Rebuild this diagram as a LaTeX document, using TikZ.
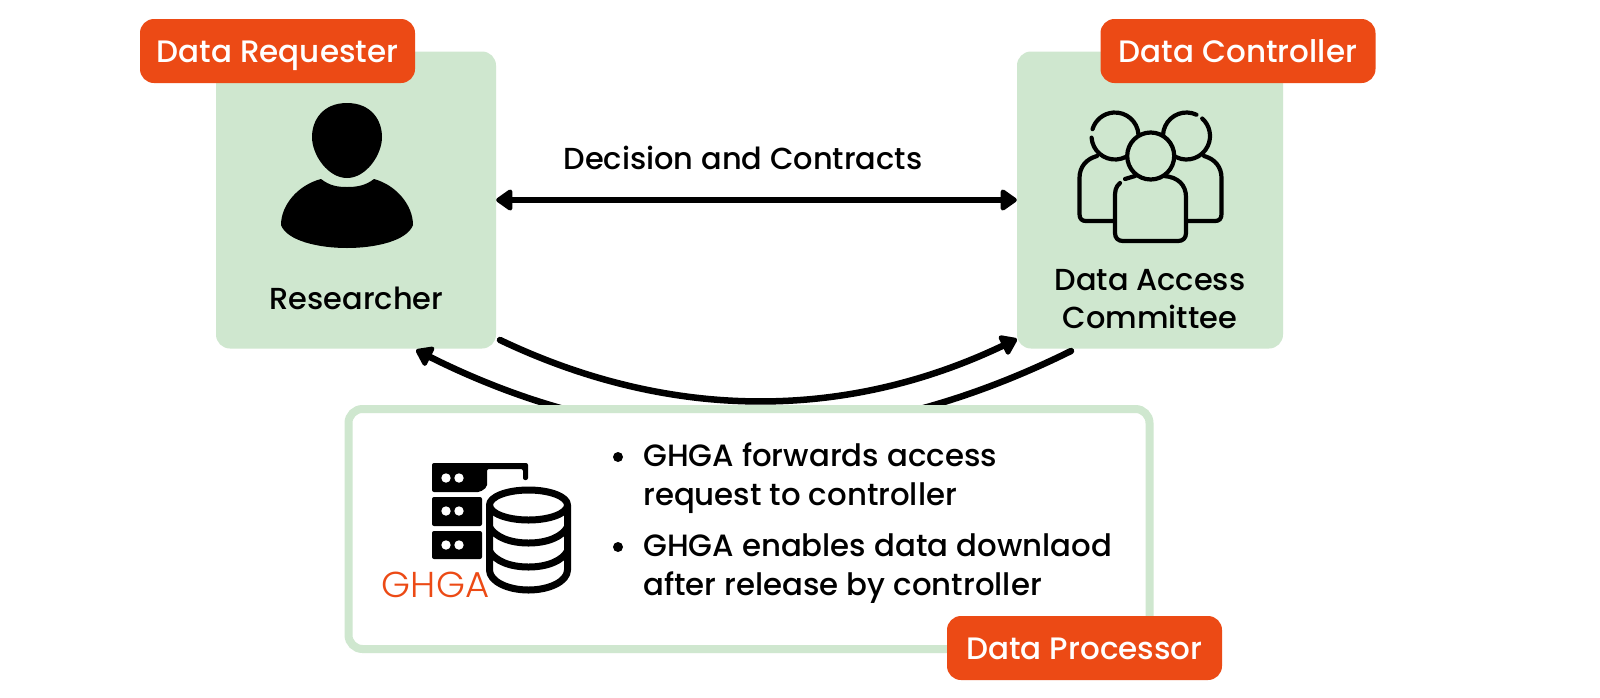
\documentclass[tikz,border=0pt]{standalone}
\usepackage{fontspec}
\setmainfont{Poppins Medium}
\usetikzlibrary{arrows.meta}
\definecolor{panelgreen}{HTML}{CFE7CF}
\definecolor{badgeorange}{HTML}{EC4A15}
\newcommand{\txtsize}{\fontsize{30.4}{36}\selectfont}
\newcommand{\listsize}{\fontsize{30.8}{36}\selectfont}
\newcommand{\badgesize}{\fontsize{31}{36}\selectfont}
\tikzset{
  panel/.style={fill=panelgreen,rounded corners=14pt,inner sep=0pt},
  badge/.style={fill=badgeorange,text=white,rounded corners=14pt,inner sep=0pt,minimum width=275pt,minimum height=64pt,font=\badgesize,text height=22pt,text depth=0pt},
  label/.style={inner sep=0pt,anchor=base,font=\txtsize,text=black},
  bullettext/.style={inner sep=0pt,anchor=base west,font=\listsize,text=black},
  flow/.style={line width=6.5pt,line cap=round,-{Triangle[round,length=18pt,width=24pt]}},
  iconline/.style={line width=4.2pt,line cap=round,line join=round},
  dbline/.style={line width=7pt,line join=round},
}
\begin{document}
\begin{tikzpicture}[x=1pt,y=-1pt]
\useasboundingbox (0,0) rectangle (1600,697);
\fill[white] (0,0) rectangle (1600,697);
% panels
\node[panel,minimum width=280pt,minimum height=297pt] (res) at (356,200) {};
\node[panel,minimum width=266pt,minimum height=297pt] (dac) at (1150,200) {};
% person
\fill (347,103) .. controls (371,103) and (382,120) .. (382,137)
  .. controls (382,155) and (366,178) .. (347,178)
  .. controls (328,178) and (312,155) .. (312,137)
  .. controls (312,120) and (323,103) .. (347,103) -- cycle;
\fill (321,179) .. controls (330,186) and (338,187) .. (347,187)
  .. controls (356,187) and (365,186) .. (374,179)
  .. controls (396,185) and (413,205) .. (413,225)
  .. controls (407,241) and (375,248) .. (347,248)
  .. controls (319,248) and (287,241) .. (281,225)
  .. controls (281,205) and (298,185) .. (321,179) -- cycle;
% committee: back heads
\begin{scope}[shift={(1115,136)},x=1pt,y=1pt]
  \draw[iconline] (184:23.5) arc[start angle=184,end angle=523,radius=23.5];
\end{scope}
\begin{scope}[shift={(1186.5,136)},x=1pt,y=1pt]
  \draw[iconline] (65:23.5) arc[start angle=65,end angle=408,radius=23.5];
\end{scope}
% committee: back bodies
\draw[iconline] (1097,156) .. controls (1086,159) and (1079.5,167) .. (1079.5,178) -- (1079.5,214)
  .. controls (1079.5,219) and (1082,221) .. (1086,221) -- (1113,221);
\draw[iconline] (1204,156) .. controls (1215,159) and (1221.5,167) .. (1221.5,178) -- (1221.5,214)
  .. controls (1221.5,219) and (1219,221) .. (1215,221) -- (1186,221);
% committee: front figure
\fill[panelgreen] (1115,198) -- (1115,233) -- (1186,233) -- (1186,197) .. controls (1186,185) and (1178,177) .. (1164,176) -- (1135,176) -- cycle;
\draw[iconline] (1120,183) .. controls (1115,187) and (1115,192) .. (1115,198) -- (1115,233)
  .. controls (1115,238) and (1118,241) .. (1123,241) -- (1178,241)
  .. controls (1183,241) and (1186,238) .. (1186,233) -- (1186,197)
  .. controls (1186,185) and (1178,177) .. (1164,176);
\draw[iconline] (1125,179) -- (1135,176);
\draw[iconline,fill=panelgreen] (1150.7,156) circle[radius=23.5];
% labels in panels
\node[label] (researcher) at (356.5,309) {Researcher};
\node[label] (dac1) at (1150,290) {Data Access};
\node[label] (dac2) at (1150,328) {Committee};
\node[label] (decision) at (743,169) {Decision and Contracts};
% connectors
\coordinate (reqstart) at (500,340);
\coordinate (reqend) at (1017,339);
\coordinate (relstart) at (1071,351);
\coordinate (relend) at (416,350);
\draw[flow,{Triangle[round,length=18pt,width=24pt]}-{Triangle[round,length=18pt,width=24pt]}] (res.east) -- (dac.west);
\draw[flow] (reqstart) .. controls (670,421) and (845,421) .. (reqend);
\draw[flow] (relstart) .. controls (851,460) and (636,460) .. (relend);
% GHGA box
\node[draw=panelgreen,fill=white,line width=8pt,rounded corners=14pt,inner sep=0pt,minimum width=801pt,minimum height=240pt] (ghga) at (749,529) {};
% rack
\fill[rounded corners=2pt] (432,463) -- (528,463) -- (528,480) -- (523,480) -- (523,469) -- (487,469) -- (487,487) -- (480,492) -- (432,492) -- cycle;
\fill[rounded corners=2pt] (432,497) -- (482,497) -- (482,526) -- (432,526) -- cycle;
\fill[rounded corners=2pt] (432,531) -- (482,531) -- (482,559) -- (432,559) -- cycle;
\foreach \yy in {478,511,545}{
  \fill[white] (446,\yy) circle[radius=4.7];
  \fill[white] (459,\yy) circle[radius=4.7];
}
% database
\fill[white] (483,505) .. controls (483,490) and (505,482) .. (528,482) .. controls (551,482) and (573,490) .. (573,505) -- (573,597) -- (483,597) -- cycle;
\draw[dbline] (489.5,505) -- (489.5,570) .. controls (489.5,581) and (507,590) .. (528.5,590)
  .. controls (550,590) and (567.5,581) .. (567.5,570) -- (567.5,505);
\draw[dbline] (528.5,505) ellipse[x radius=39,y radius=15];
\draw[dbline] (489.5,527) .. controls (495,537) and (510,543) .. (528.5,543) .. controls (547,543) and (562,537) .. (567.5,527);
\draw[dbline] (489.5,551) .. controls (495,561) and (510,567) .. (528.5,567) .. controls (547,567) and (562,561) .. (567.5,551);
\node[inner sep=0pt,text=badgeorange,anchor=base] (ghgalogo) at (435.5,597) {\fontsize{36}{36}\selectfont\scalebox{1.03}[1]{\fontspec{Poppins Light}GHGA}};
% bullets
\fill (618,457) circle[radius=5];
\fill (618,547) circle[radius=5];
\node[bullettext] (b1) at (643,466) {GHGA forwards access};
\node[bullettext] (b2) at (643,505) {request to controller};
\node[bullettext] (b3) at (643,556) {GHGA enables data downlaod};
\node[bullettext] (b4) at (643,595) {after release by controller};
% badges
\node[badge] (lreq) at (277.5,51) {Data Requester};
\node[badge] (lctrl) at (1238,51) {Data Controller};
\node[badge] (lproc) at (1084.5,648) {Data Processor};
\end{tikzpicture}
\end{document}
